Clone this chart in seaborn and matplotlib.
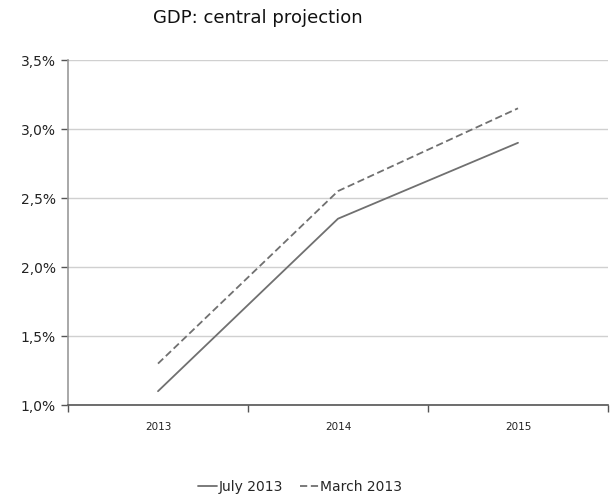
import matplotlib
matplotlib.use("Agg")
import matplotlib.pyplot as plt
import seaborn as sns
import pandas as pd
from matplotlib.lines import Line2D

years = ["2013", "2014", "2015"]
july_2013 = [1.10, 2.35, 2.90]
march_2013 = [1.30, 2.55, 3.15]
y_ticks = [1.0, 1.5, 2.0, 2.5, 3.0, 3.5]

sns.set_theme(style="white")
plt.rcParams["font.family"] = ["DejaVu Sans"]

df = pd.DataFrame({
    "year": years * 2,
    "value": july_2013 + march_2013,
    "series": ["July 2013"] * 3 + ["March 2013"] * 3,
})

fig = plt.figure(figsize=(6.13, 4.98), dpi=100)
ax = fig.add_axes([68 / 613, 1 - 405 / 498, 540 / 613, 345 / 498])

line_color = "#707070"
sns.lineplot(data=df, x="year", y="value", style="series",
             dashes={"July 2013": "", "March 2013": (4, 2)},
             color=line_color, linewidth=1.3, ax=ax, legend=False)

ax.set_xlim(-0.5, 2.5)
ax.set_ylim(1.0, 3.5)
ax.set_yticks(y_ticks)
ax.set_yticklabels([f"{v:.1f}%".replace(".", ",") for v in y_ticks], fontsize=10, color="#222222")
ax.yaxis.grid(True, color="#d0d0d0", linewidth=1)
ax.set_axisbelow(True)

ax.set_xticks(range(len(years)))
ax.set_xticklabels(years, fontsize=7.5, color="#222222")
ax.set_xticks([-0.5, 0.5, 1.5, 2.5], minor=True)
ax.tick_params(axis="x", which="major", length=0, pad=12)
ax.tick_params(axis="x", which="minor", length=5, width=1, color="#555555", direction="out", bottom=True)
ax.tick_params(axis="y", which="major", length=5, width=1, color="#555555", direction="out", left=True, pad=4)
ax.set_xlabel("")
ax.set_ylabel("")

for side in ["top", "right"]:
    ax.spines[side].set_visible(False)
ax.spines["left"].set_color("#999999")
ax.spines["left"].set_linewidth(1.2)
ax.spines["bottom"].set_color("#555555")
ax.spines["bottom"].set_linewidth(1.2)

fig.text(258 / 613, 1 - 18 / 498, "GDP: central projection", ha="center", va="center",
         fontsize=13, color="#111111")

handles = [
    Line2D([], [], color=line_color, linewidth=1.3, linestyle="-"),
    Line2D([], [], color=line_color, linewidth=1.3, linestyle=(0, (4, 2))),
]
fig.legend(handles, ["July 2013", "March 2013"], loc="center",
           bbox_to_anchor=(300 / 613, 1 - 487 / 498), ncol=2, frameon=False,
           fontsize=10, handlelength=1.4, handletextpad=0.1, columnspacing=1.2)

fig.savefig("out.png", dpi=100)
